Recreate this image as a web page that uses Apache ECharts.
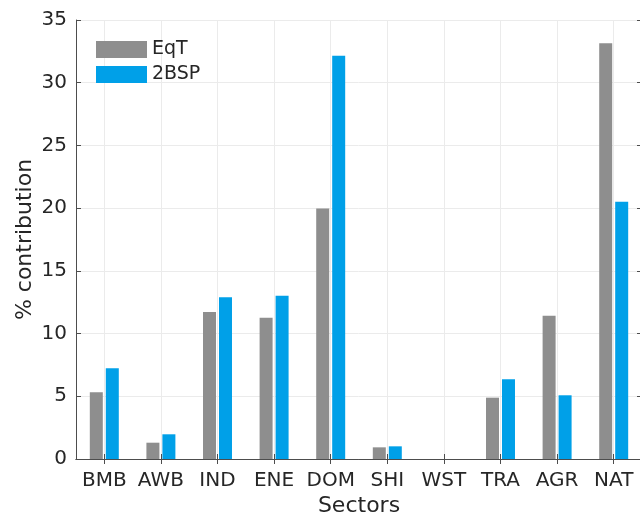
<!DOCTYPE html>
<html>
<head>
<meta charset="utf-8">
<script src="https://cdn.jsdelivr.net/npm/echarts@6/dist/echarts.min.js"></script>
<style>html,body{margin:0;padding:0;background:#fff;}#c{width:640px;height:515px;}</style>
</head>
<body>
<div id="c"></div>
<script>
var categories = ['BMB','AWB','IND','ENE','DOM','SHI','WST','TRA','AGR','NAT'];
var eqtValues = [5.32, 1.30, 11.72, 11.27, 19.97, 0.93, 0, 4.89, 11.43, 33.15];
var bspValues = [7.23, 1.97, 12.89, 13.02, 32.14, 1.01, 0, 6.35, 5.08, 20.5];
var seriesNames = ['EqT', '2BSP'];
var yTicks = {min: 0, max: 35, interval: 5};

var FONT = 'DejaVu Sans';
var TXT = '#262626';
var AX = '#4d4d4d';
var GRIDC = '#ebebeb';

var chart = echarts.init(document.getElementById('c'), null, {renderer: 'canvas'});
chart.setOption({
  animation: false,
  backgroundColor: '#ffffff',
  textStyle: {fontFamily: FONT},
  grid: {left: 76, top: 20, width: 566, height: 439, containLabel: false, outerBoundsMode: 'none', show: false},
  legend: {
    left: 96, top: 40, orient: 'vertical', itemWidth: 51, itemHeight: 17, itemGap: 6,
    icon: 'rect',
    textStyle: {fontFamily: FONT, fontSize: 19, color: TXT},
    padding: 0,
    itemStyle: {borderWidth: 0},
    data: seriesNames
  },
  xAxis: [{
    type: 'category', data: categories, position: 'bottom',
    name: 'Sectors', nameLocation: 'middle', nameGap: 36, nameMoveOverlap: false,
    nameTextStyle: {fontFamily: FONT, fontSize: 22, color: TXT},
    axisLine: {show: true, lineStyle: {color: AX, width: 1}},
    axisTick: {show: true, inside: true, length: 5, alignWithLabel: true, interval: 0, lineStyle: {color: AX}},
    axisLabel: {fontFamily: FONT, fontSize: 20, color: TXT, margin: 12, interval: 0},
    splitLine: {show: true, alignWithLabel: true, interval: 0, lineStyle: {color: GRIDC, width: 1}}
  }, {
    type: 'category', data: categories, position: 'top',
    axisLine: {show: true, lineStyle: {color: AX, width: 1}},
    axisTick: {show: true, inside: true, length: 5, alignWithLabel: true, interval: 0, lineStyle: {color: AX}},
    axisLabel: {show: false},
    splitLine: {show: false}
  }],
  yAxis: [{
    type: 'value', min: yTicks.min, max: yTicks.max, interval: yTicks.interval,
    name: '% contribution', nameLocation: 'middle', nameGap: 40, nameRotate: 90, nameMoveOverlap: false,
    nameTextStyle: {fontFamily: FONT, fontSize: 22, color: TXT},
    axisLine: {show: true, lineStyle: {color: AX, width: 1}},
    axisTick: {show: true, inside: true, length: 5, lineStyle: {color: AX}},
    axisLabel: {fontFamily: FONT, fontSize: 20, color: TXT, margin: 9},
    splitLine: {show: true, lineStyle: {color: GRIDC, width: 1}}
  }, {
    type: 'value', min: yTicks.min, max: yTicks.max, interval: yTicks.interval, position: 'right',
    axisLine: {show: true, lineStyle: {color: AX, width: 1}},
    axisTick: {show: true, inside: true, length: 5, lineStyle: {color: AX}},
    axisLabel: {show: false},
    splitLine: {show: false}
  }],
  series: [{
    name: seriesNames[0], type: 'bar', data: eqtValues, barWidth: 13, barGap: '23%',
    itemStyle: {color: '#8e8e8e', borderWidth: 0}
  }, {
    name: seriesNames[1], type: 'bar', data: bspValues, barWidth: 13, barGap: '23%',
    itemStyle: {color: '#00a0e8', borderWidth: 0}
  }]
});
</script>
</body>
</html>
